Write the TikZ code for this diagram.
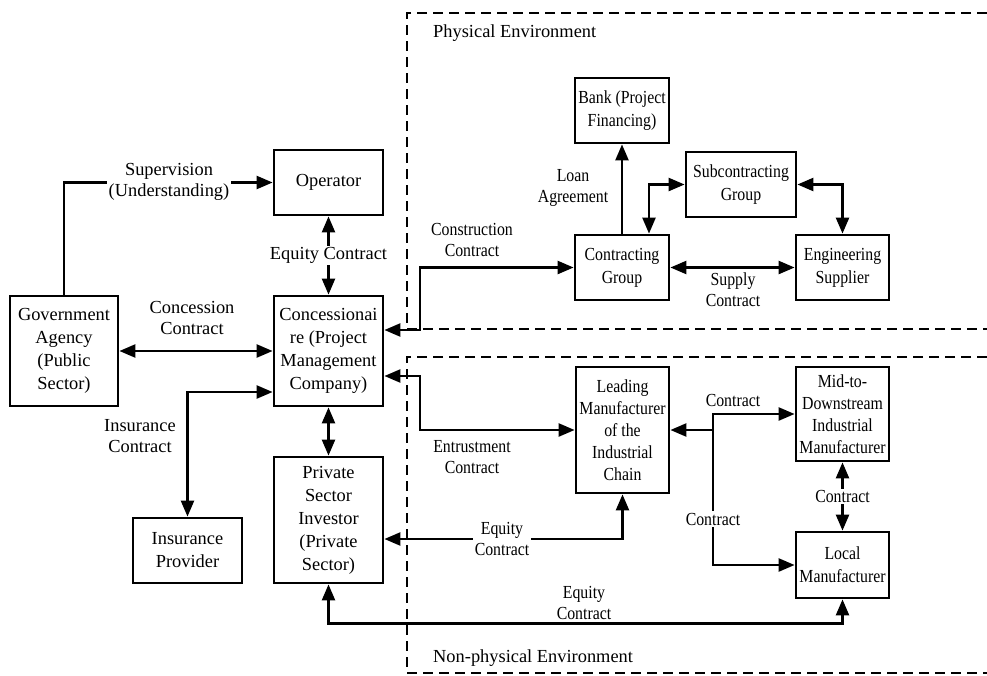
\documentclass[tikz,border=0pt]{standalone}
\usepackage{fontspec}
\setmainfont{Liberation Serif}
\newfontfamily\condfont[FakeStretch=0.86]{Liberation Serif}
\usetikzlibrary{arrows.meta,calc}
\begin{document}
\begin{tikzpicture}[x=1pt,y=-1pt,
 box/.style={draw,line width=2.8pt,align=center,inner sep=0pt,font=\fontsize{18.4}{23}\selectfont},
 cbox/.style={box,font=\condfont\fontsize{18.4}{23}\selectfont},
 lbl/.style={align=center,inner sep=1.5pt,font=\fontsize{18.4}{21}\selectfont},
 clbl/.style={lbl,font=\condfont\fontsize{18.4}{21}\selectfont},
 wlbl/.style={lbl,fill=white},
 cwlbl/.style={clbl,fill=white},
 conn/.style={line width=2.4pt},
 arr/.style={conn,-{Triangle[length=16pt,width=13pt]}},
 darr/.style={conn,{Triangle[length=16pt,width=13pt]}-{Triangle[length=16pt,width=13pt]}},
 env/.style={line width=2.4pt,dash pattern=on 10pt off 6pt},
 envlbl/.style={anchor=west,inner sep=0pt,font=\fontsize{18.4}{21}\selectfont}]
\useasboundingbox (0,0) rectangle (987,675);

% environments
\draw[env] (987,13) -- (407,13) -- (407,329) -- (987,329);
\draw[env] (987,357) -- (407,357) -- (407,673) -- (987,673);
\node[envlbl] (phys) at (433,33) {Physical Environment};
\node[envlbl] (nonphys) at (433,658) {Non-physical Environment};

% boxes
\node[box,minimum width=109pt,minimum height=65pt] (op) at (328.5,182.5) {Operator};
\node[box,minimum width=109pt,minimum height=110pt] (conc) at (328.5,351) {Concessionai\\re (Project\\Management\\Company)};
\node[box,minimum width=108pt,minimum height=110pt] (gov) at (64,351) {Government\\Agency\\(Public\\Sector)};
\node[box,minimum width=109pt,minimum height=65pt] (ins) at (187.5,550.5) {Insurance\\Provider};
\node[box,minimum width=109pt,minimum height=126pt] (priv) at (328.5,520) {Private\\Sector\\Investor\\(Private\\Sector)};
\node[cbox,minimum width=94pt,minimum height=65pt] (bank) at (622,110.5) {Bank (Project\\Financing)};
\node[cbox,minimum width=94pt,minimum height=65pt] (cg) at (622,267.5) {Contracting\\Group};
\node[cbox,minimum width=110pt,minimum height=65pt] (sub) at (741,184.5) {Subcontracting\\Group};
\node[cbox,minimum width=93pt,minimum height=65pt] (eng) at (842.5,267.5) {Engineering\\Supplier};
\node[cbox,minimum width=93pt,minimum height=126pt,font=\condfont\fontsize{18.4}{22}\selectfont] (lead) at (622.5,430) {Leading\\Manufacturer\\of the\\Industrial\\Chain};
\node[cbox,minimum width=93pt,minimum height=94pt,font=\condfont\fontsize{18.4}{22}\selectfont] (mid) at (842.5,414) {Mid-to-\\Downstream\\Industrial\\Manufacturer};
\node[cbox,minimum width=93pt,minimum height=66pt] (loc) at (842.5,565) {Local\\Manufacturer};

% connectors left part
\draw[arr] (gov.north) |- (op.west);
\node[wlbl] (lsup) at (169,182) {Supervision\\(Understanding)};
\draw[darr] (op.south) -- (conc.north) node[midway,wlbl] (leq1) {Equity Contract};
\draw[darr] (gov.east) -- (conc.west);
\node[lbl] (lcon) at (192,318) {Concession\\Contract};
\draw[darr] ([yshift=-41pt]conc.west) -| (ins.north);
\node[lbl] (lins) at (140,436) {Insurance\\Contract};
\draw[darr] (conc.south) -- (priv.north);

% physical environment
\draw[darr] ([yshift=21pt]conc.east) -- (420,330) -- (420,267.5) -- (cg.west);
\node[clbl] (lcons) at (472,240) {Construction\\Contract};
\draw[arr] (cg.north) -- (bank.south);
\node[clbl] (lloan) at (573,188) {Loan\\Agreement};
\draw[darr] (sub.west) -| ([xshift=27pt]cg.north);
\draw[darr] (sub.east) -| (eng.north);
\draw[darr] (cg.east) -- (eng.west);
\node[clbl] (lsupply) at (733,290) {Supply\\Contract};

% non-physical environment
\draw[darr] ([yshift=-25pt]conc.east) -- (420,376) -- (420,430) -- (lead.west);
\node[clbl] (lent) at (472,457) {Entrustment\\Contract};
\draw[darr] ([yshift=-19pt]priv.east) -| (lead.south);
\node[cwlbl] (leq2) at (502,539) {Equity\\Contract};
\coordinate (br) at (713,430);
\draw[arr] (br) -- (lead.east);
\draw[arr] (br) |- (mid.west);
\draw[arr] (br) |- (loc.west);
\node[clbl] (lc1) at (733,400) {Contract};
\node[cwlbl] (lc2) at (713,519) {Contract};
\draw[darr] (mid.south) -- (loc.north) node[midway,cwlbl] (lc3) {Contract};
\draw[darr] (priv.south) -- ++(0,39) -| (loc.south);
\node[cwlbl] (leq3) at (584,603) {Equity\\Contract};
\end{tikzpicture}
\end{document}
